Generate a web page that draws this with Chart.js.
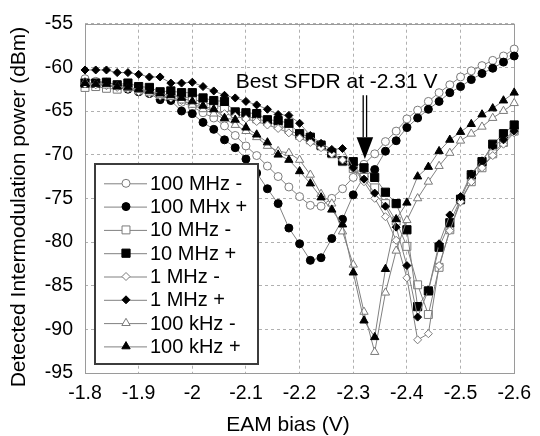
<!DOCTYPE html>
<html><head><meta charset="utf-8">
<script src="https://cdn.jsdelivr.net/npm/chart.js@4.4.1/dist/chart.umd.min.js"></script>
<style>html,body{margin:0;padding:0;background:#fff;}#wrap{width:540px;height:436px;}</style>
</head><body><div id="wrap"><canvas id="c" width="540" height="436"></canvas></div>
<script>
// ---- data ----
const biasV = [-1.80,-1.82,-1.84,-1.86,-1.88,-1.90,-1.92,-1.94,-1.96,-1.98,-2.00,-2.02,-2.04,-2.06,-2.08,-2.10,-2.12,-2.14,-2.16,-2.18,-2.20,-2.22,-2.24,-2.26,-2.28,-2.30,-2.32,-2.34,-2.36,-2.38,-2.40,-2.42,-2.44,-2.46,-2.48,-2.50,-2.52,-2.54,-2.56,-2.58,-2.60];
const mhz100Minus = [-61.3,-61.6,-61.7,-62.0,-62.2,-62.6,-62.9,-63.3,-63.6,-64.0,-64.5,-65.2,-65.8,-66.7,-67.8,-69.0,-70.1,-71.3,-72.5,-73.7,-74.8,-75.8,-75.9,-75.0,-73.9,-72.6,-71.1,-69.9,-68.5,-67.3,-65.9,-64.9,-63.9,-62.9,-62.0,-61.1,-60.4,-59.8,-59.2,-58.7,-57.9];
const mhz100Plus = [-62.1,-62.0,-61.9,-62.3,-62.5,-62.8,-63.0,-63.7,-63.8,-65.0,-65.3,-66.3,-67.1,-68.3,-69.2,-70.5,-72.1,-73.9,-75.6,-78.4,-80.2,-82.1,-81.8,-79.6,-77.4,-74.6,-72.5,-71.7,-69.6,-68.4,-66.9,-65.8,-64.8,-63.9,-62.9,-62.2,-61.4,-60.7,-60.1,-59.4,-58.7];
const mhz10Minus = [-62.3,-62.2,-62.4,-62.5,-62.3,-62.6,-62.8,-63.1,-63.1,-63.3,-63.6,-64.0,-64.3,-64.6,-65.3,-65.6,-65.9,-66.2,-66.6,-67.1,-67.8,-68.3,-69.0,-69.9,-70.8,-71.6,-72.6,-73.8,-75.6,-77.6,-80.5,-84.9,-88.3,-82.9,-78.6,-75.2,-73.1,-71.5,-69.9,-68.6,-67.3];
const mhz10Plus = [-61.8,-61.8,-61.7,-62.0,-61.8,-62.2,-62.3,-62.8,-62.7,-62.9,-62.9,-63.5,-63.8,-63.9,-65.1,-65.2,-65.3,-66.0,-66.1,-66.4,-67.6,-68.0,-68.9,-69.8,-70.7,-70.8,-71.5,-72.6,-74.3,-75.6,-78.6,-87.4,-85.6,-80.6,-77.8,-75.1,-72.3,-70.8,-68.8,-67.6,-66.6];
const mhz1Minus = [-61.9,-62.0,-62.1,-62.3,-62.5,-62.8,-63.0,-63.3,-63.5,-63.8,-64.2,-64.6,-65.0,-65.3,-65.6,-65.9,-66.2,-66.6,-67.0,-67.5,-68.1,-68.6,-69.2,-69.9,-70.6,-71.6,-73.1,-75.0,-77.1,-79.8,-84.1,-91.2,-90.5,-82.7,-78.7,-75.4,-73.1,-71.5,-70.1,-68.8,-67.5];
const mhz1Plus = [-60.3,-60.3,-60.3,-60.6,-60.6,-60.8,-61.1,-61.1,-61.8,-61.8,-61.7,-62.2,-62.7,-63.2,-63.5,-63.9,-64.3,-64.8,-65.4,-65.5,-66.4,-67.8,-68.7,-69.4,-69.3,-71.5,-72.8,-74.4,-75.9,-78.3,-82.7,-88.6,-85.5,-80.2,-76.9,-74.8,-72.2,-70.7,-69.0,-68.3,-67.3];
const khz100Minus = [-61.7,-61.9,-62.1,-62.2,-62.4,-62.6,-62.9,-63.2,-63.4,-63.8,-64.3,-64.8,-65.3,-65.9,-66.6,-67.3,-68.0,-69.0,-69.6,-69.8,-70.6,-72.3,-74.5,-75.6,-78.8,-82.6,-88.0,-92.6,-85.8,-81.0,-77.5,-75.0,-73.1,-71.3,-69.8,-68.4,-67.6,-66.8,-65.8,-65.0,-64.1];
const khz100Plus = [-61.8,-61.9,-61.9,-62.2,-62.3,-62.5,-62.7,-63.0,-63.2,-63.5,-63.9,-64.4,-64.8,-65.8,-66.0,-66.9,-67.7,-68.6,-70.0,-70.6,-71.9,-73.3,-74.9,-76.3,-78.0,-83.5,-89.0,-90.9,-83.1,-77.4,-75.5,-72.5,-71.4,-69.6,-68.3,-67.4,-66.5,-65.4,-64.7,-63.8,-62.9];
const seriesLabels = ['100 MHz -','100 MHx +','10 MHz -','10 MHz +','1 MHz -','1 MHz +','100 kHz -','100 kHz +'];
const xTickValues = [-1.8,-1.9,-2.0,-2.1,-2.2,-2.3,-2.4,-2.5,-2.6];
const xTickLabels = ['-1.8','-1.9','-2','-2.1','-2.2','-2.3','-2.4','-2.5','-2.6'];
const yTickValues = [-55,-60,-65,-70,-75,-80,-85,-90,-95];
const yTickLabels = ['-55','-60','-65','-70','-75','-80','-85','-90','-95'];
const xTitle = 'EAM bias (V)';
const yTitle = 'Detected Intermodulation power (dBm)';
const annotationText = 'Best SFDR at -2.31 V';
const arrowX = -2.3217, arrowTailY = -63.2, arrowHeadY = -68.0, arrowTipY = -70.5;
const annotationTextX = -2.269, annotationTextY = -62.4;

// ---- styles ----
const FONT = '"Liberation Sans", Arial, sans-serif';
const LINE = '#808080';
const styles = [
  {ps:'circle', r:4, open:true},
  {ps:'circle', r:4, open:false},
  {ps:'rect', r:5.6, open:true},
  {ps:'rect', r:5.8, open:false},
  {ps:'rectRot', r:4, open:true},
  {ps:'rectRot', r:4, open:false},
  {ps:'triangle', r:4.8, open:true},
  {ps:'triangle', r:4.8, open:false}
];
const allSeries = [mhz100Minus, mhz100Plus, mhz10Minus, mhz10Plus, mhz1Minus, mhz1Plus, khz100Minus, khz100Plus];
const datasets = allSeries.map((vals, i) => {
  const s = styles[i];
  return {
    label: seriesLabels[i],
    data: biasV.map((x, j) => ({x: x, y: vals[j]})),
    borderColor: LINE, borderWidth: 1,
    pointStyle: s.ps, pointRadius: s.r,
    pointBackgroundColor: s.open ? '#ffffff' : '#000000',
    pointBorderColor: s.open ? '#7a7a7a' : '#000000',
    pointBorderWidth: 1,
    tension: 0, fill: false, clip: false,
    order: 8 - i
  };
});

const framePlugin = {
  id: 'frame',
  beforeDatasetsDraw(chart) {
    const a = chart.chartArea, ctx = chart.ctx;
    ctx.save();
    ctx.strokeStyle = '#9a9a9a'; ctx.lineWidth = 1;
    ctx.strokeRect(Math.round(a.left) + 0.5, Math.round(a.top) + 0.5, Math.round(a.right - a.left), Math.round(a.bottom - a.top));
    ctx.restore();
  }
};

const titlesPlugin = {
  id: 'axisTitles',
  afterDraw(chart) {
    const ctx = chart.ctx;
    ctx.save();
    ctx.fillStyle = '#000'; ctx.font = '21px ' + FONT;
    ctx.textAlign = 'center'; ctx.textBaseline = 'middle';
    ctx.fillText(xTitle, 288, 425);
    ctx.translate(19.5, 207);
    ctx.rotate(-Math.PI / 2);
    ctx.fillText(yTitle, 0, 0);
    ctx.restore();
  }
};

const annotationPlugin = {
  id: 'sfdr',
  afterDatasetsDraw(chart) {
    const ctx = chart.ctx, xs = chart.scales.x, ys = chart.scales.y;
    const x = xs.getPixelForValue(arrowX);
    const yT = ys.getPixelForValue(arrowTailY), yH = ys.getPixelForValue(arrowHeadY), yP = ys.getPixelForValue(arrowTipY);
    ctx.save();
    ctx.strokeStyle = '#000'; ctx.lineWidth = 1.3;
    ctx.beginPath();
    ctx.moveTo(x - 1.7, yT); ctx.lineTo(x - 1.7, yH);
    ctx.moveTo(x + 1.7, yT); ctx.lineTo(x + 1.7, yH);
    ctx.stroke();
    ctx.fillStyle = '#000';
    ctx.beginPath();
    ctx.moveTo(x - 8.3, yH); ctx.lineTo(x + 8.3, yH); ctx.lineTo(x, yP); ctx.closePath();
    ctx.fill();
    ctx.font = '21px ' + FONT;
    ctx.textAlign = 'center'; ctx.textBaseline = 'alphabetic';
    ctx.fillText(annotationText, xs.getPixelForValue(annotationTextX), ys.getPixelForValue(annotationTextY));
    ctx.restore();
  }
};

const legendPlugin = {
  id: 'boxLegend',
  afterDraw(chart) {
    const ctx = chart.ctx;
    const L = 95, T = 164, W = 163, H = 200;
    ctx.save();
    ctx.fillStyle = '#fff'; ctx.fillRect(L, T, W, H);
    ctx.strokeStyle = '#3c3c3c'; ctx.lineWidth = 2; ctx.strokeRect(L, T, W, H);
    chart.data.datasets.forEach((ds, i) => {
      const y = 183.3 + i * 23.3;
      ctx.strokeStyle = ds.borderColor; ctx.lineWidth = 1;
      ctx.beginPath(); ctx.moveTo(104, y + 0.5); ctx.lineTo(147, y + 0.5); ctx.stroke();
      ctx.fillStyle = ds.pointBackgroundColor; ctx.strokeStyle = ds.pointBorderColor; ctx.lineWidth = 1;
      Chart.helpers.drawPoint(ctx, {pointStyle: ds.pointStyle, radius: ds.pointRadius, rotation: 0, borderWidth: 1}, 126, y);
      ctx.fillStyle = '#000'; ctx.font = '20px ' + FONT;
      ctx.textAlign = 'left'; ctx.textBaseline = 'middle';
      ctx.fillText(ds.label, 150, y + 1);
    });
    ctx.restore();
  }
};

new Chart(document.getElementById('c'), {
  type: 'line',
  data: {datasets: datasets},
  plugins: [framePlugin, annotationPlugin, legendPlugin, titlesPlugin],
  options: {
    responsive: false, animation: false, devicePixelRatio: 1,
    layout: {padding: {top: 17, right: 21, left: 0, bottom: 0}},
    plugins: {legend: {display: false}, tooltip: {enabled: false}},
    scales: {
      x: {
        type: 'linear', reverse: true, min: -2.6, max: -1.8,
        afterBuildTicks: s => { s.ticks = xTickValues.map(v => ({value: v})); },
        afterFit: s => { s.height = 63; },
        ticks: {callback: (v, i) => xTickLabels[i], color: '#000', font: {family: FONT, size: 19.5}, padding: 9, maxRotation: 0, autoSkip: false},
        grid: {color: '#b0b0b0', lineWidth: 1, drawTicks: false},
        border: {display: false, dash: [3, 3]},
        title: {display: false}
      },
      y: {
        type: 'linear', min: -95, max: -55,
        afterBuildTicks: s => { s.ticks = yTickValues.map(v => ({value: v})); },
        afterFit: s => { s.width = 85; },
        ticks: {callback: (v, i) => yTickLabels[i], color: '#000', font: {family: FONT, size: 19.5}, padding: 12, autoSkip: false},
        grid: {color: '#b0b0b0', lineWidth: 1, drawTicks: false},
        border: {display: false, dash: [3, 3]},
        title: {display: false}
      }
    }
  }
});
</script>
</body></html>
